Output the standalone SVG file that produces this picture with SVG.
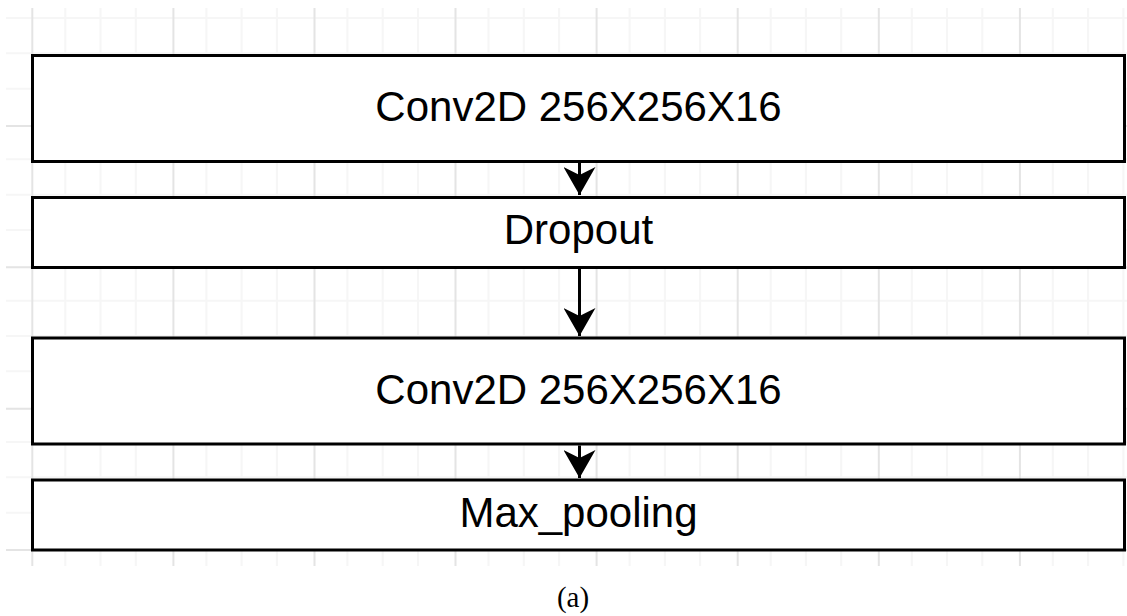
<svg xmlns="http://www.w3.org/2000/svg" width="1127" height="616" viewBox="0 0 1127 616">
<style>
.gmin{stroke:#f6f6f6;stroke-width:2;fill:none}
.gmaj{stroke:#e4e4e4;stroke-width:2;fill:none}
.box{fill:#ffffff;stroke:#000000;stroke-width:3}
.lbl{font-family:"Liberation Sans",Arial,sans-serif;font-size:42px;fill:#000000;text-anchor:middle}
.conn{stroke:#000000;stroke-width:3;fill:none;marker-end:url(#ah)}
.cap{font-family:"Liberation Serif","Times New Roman",serif;font-size:29px;fill:#000000;text-anchor:middle}
</style>
<defs>
<marker id="ah" viewBox="0 0 30 32" refX="29" refY="16" markerWidth="30" markerHeight="32" markerUnits="userSpaceOnUse" orient="auto">
<path d="M1,0 L29,16 L1,32 L9,16 Z" fill="#000000"/>
</marker>
</defs>
<rect width="1127" height="616" fill="#ffffff"/>
<g id="grid">
<path class="gmin" d="M65.3,8V566M100.5,8V566M135.8,8V566M206.4,8V566M241.6,8V566M276.9,8V566M347.4,8V566M382.7,8V566M418,8V566M488.5,8V566M523.8,8V566M559.1,8V566M629.6,8V566M664.9,8V566M700.1,8V566M770.7,8V566M805.9,8V566M841.2,8V566M911.8,8V566M947,8V566M982.3,8V566M1052.8,8V566M1088.1,8V566M1123.4,8V566"/>
<path class="gmin" d="M6,18H1127M6,53.3H1127M6,88.7H1127M6,159.3H1127M6,194.7H1127M6,230H1127M6,300.7H1127M6,336H1127M6,371.3H1127M6,442H1127M6,477.3H1127M6,512.7H1127"/>
<path class="gmaj" d="M32.3,8V566M173.4,8V566M314.5,8V566M455.5,8V566M596.6,8V566M737.7,8V566M878.8,8V566M1019.9,8V566"/>
<path class="gmaj" d="M6,126H1127M6,267.3H1127M6,408.7H1127M6,550H1127"/>
</g>
<g id="node1">
<rect class="box" x="32.5" y="55.5" width="1092" height="106"/>
<text class="lbl" x="578.5" y="121">Conv2D 256X256X16</text>
</g>
<g id="node2">
<rect class="box" x="32.5" y="197.5" width="1092" height="70"/>
<text class="lbl" x="578.5" y="244">Dropout</text>
</g>
<g id="node3">
<rect class="box" x="32.5" y="338" width="1092" height="106"/>
<text class="lbl" x="578.5" y="404">Conv2D 256X256X16</text>
</g>
<g id="node4">
<rect class="box" x="32.5" y="480" width="1092" height="70"/>
<text class="lbl" x="578.5" y="527">Max_pooling</text>
</g>
<g id="connectors">
<path class="conn" d="M579.5,163V195"/>
<path class="conn" d="M579.5,269V336"/>
<path class="conn" d="M579.5,445.5V478"/>
</g>
<text class="cap" x="573" y="607">(a)</text>
</svg>
